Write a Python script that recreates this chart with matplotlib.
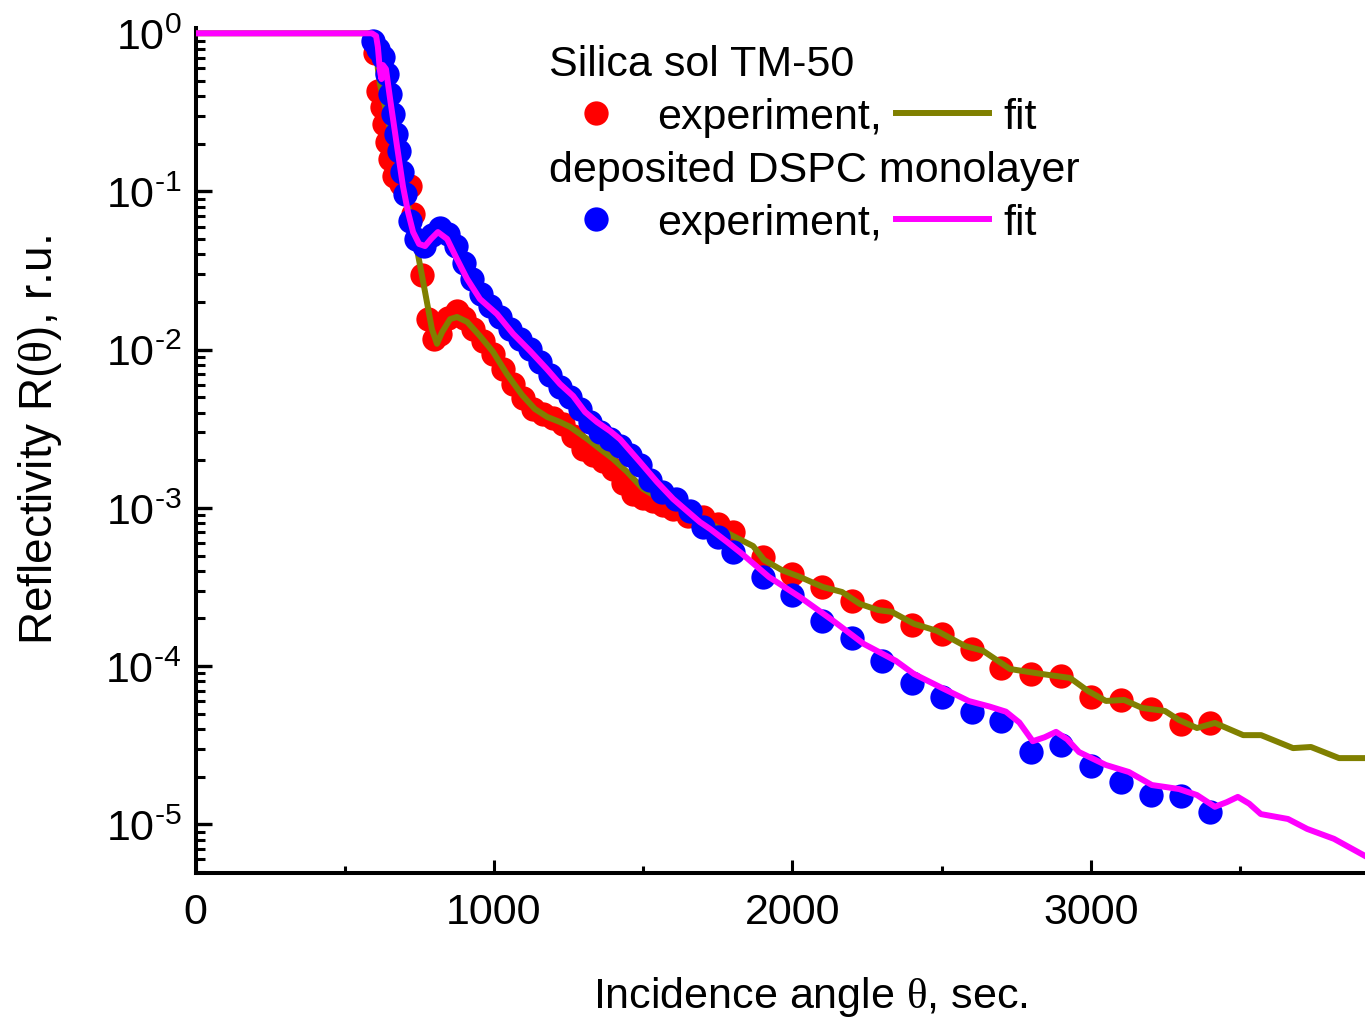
import math
import matplotlib
matplotlib.use("Agg")
import matplotlib.pyplot as plt
from matplotlib.lines import Line2D
from matplotlib.ticker import LogLocator, FixedLocator, NullFormatter, FuncFormatter

plt.rcParams['font.family'] = ['Liberation Sans', 'DejaVu Sans']
plt.rcParams['mathtext.fontset'] = 'custom'
plt.rcParams['mathtext.rm'] = 'Liberation Serif'
plt.rcParams['mathtext.it'] = 'Liberation Serif'

# Silica sol TM-50: measured reflectivity
silica_exp_x = [600, 611, 625, 632, 642, 652, 665, 690, 718, 729, 759, 779, 800, 820,
                845, 876, 900, 930, 963, 997, 1030, 1064, 1097, 1131, 1164, 1198, 1231,
                1265, 1298, 1332, 1365, 1399, 1432, 1466, 1499, 1533, 1566, 1600, 1650,
                1700, 1750, 1800, 1900, 2000, 2100, 2200, 2300, 2400, 2500, 2600, 2700,
                2800, 2900, 3000, 3100, 3200, 3300, 3400]
silica_exp_r = [0.75, 0.432, 0.342, 0.267, 0.206, 0.160, 0.125, 0.112, 0.108, 0.072,
                0.0297, 0.0156, 0.0117, 0.0125, 0.0158, 0.0176, 0.0158, 0.0136, 0.01135,
                0.00939, 0.00755, 0.00607, 0.00495, 0.00422, 0.00392, 0.00370, 0.00339,
                0.00284, 0.00235, 0.00216, 0.00198, 0.00176, 0.00144, 0.00122, 0.00115,
                0.00110, 0.00104, 9.83e-4, 8.89e-4, 8.75e-4, 7.90e-4, 7.03e-4, 4.86e-4,
                3.80e-4, 3.14e-4, 2.58e-4, 2.23e-4, 1.82e-4, 1.59e-4, 1.28e-4, 9.75e-5,
                8.87e-5, 8.62e-5, 6.40e-5, 6.11e-5, 5.39e-5, 4.32e-5, 4.38e-5]

# Silica sol TM-50: model fit
silica_fit_x = [0, 591, 605, 611, 618, 652, 685, 719, 745, 769, 792, 809, 826, 853, 876,
                910, 953, 997, 1043, 1094, 1137, 1178, 1221, 1255, 1312, 1355, 1399, 1446,
                1499, 1546, 1590, 1657, 1713, 1801, 1868, 1905, 1965, 2025, 2102, 2166,
                2226, 2287, 2333, 2407, 2484, 2578, 2638, 2729, 2836, 2930, 2990, 3050,
                3111, 3171, 3248, 3295, 3355, 3415, 3510, 3570, 3677, 3737, 3831, 3918]
silica_fit_r = [1.0, 1.0, 0.856, 0.595, 0.478, 0.248, 0.129, 0.0719, 0.0403, 0.0232,
                0.0135, 0.0109, 0.0129, 0.0156, 0.0161, 0.0150, 0.0122, 0.00968, 0.00702,
                0.00517, 0.00422, 0.00376, 0.00349, 0.00325, 0.00273, 0.00236, 0.00204,
                0.00169, 0.00132, 0.00117, 0.00109, 8.89e-4, 8.15e-4, 6.64e-4, 5.74e-4,
                4.68e-4, 4.04e-4, 3.66e-4, 3.16e-4, 2.94e-4, 2.47e-4, 2.26e-4, 2.20e-4,
                1.85e-4, 1.67e-4, 1.34e-4, 1.25e-4, 9.58e-5, 8.91e-5, 8.41e-5, 6.96e-5,
                6.02e-5, 6.11e-5, 5.44e-5, 5.20e-5, 4.56e-5, 4.06e-5, 4.37e-5, 3.66e-5,
                3.66e-5, 3.03e-5, 3.08e-5, 2.62e-5, 2.62e-5]

# Deposited DSPC monolayer: measured reflectivity
dspc_exp_x = [595, 611, 628, 642, 652, 662, 672, 682, 692, 702, 719, 739, 765, 792, 819,
              846, 873, 899, 926, 956, 987, 1020, 1054, 1087, 1121, 1154, 1188, 1221,
              1255, 1288, 1322, 1355, 1389, 1422, 1456, 1489, 1523, 1563, 1610, 1657,
              1700, 1750, 1800, 1900, 2000, 2100, 2200, 2300, 2400, 2500, 2600, 2700,
              2800, 2900, 3000, 3100, 3200, 3300, 3400]
dspc_exp_r = [0.893, 0.796, 0.708, 0.553, 0.413, 0.308, 0.231, 0.180, 0.133, 0.0962,
              0.0649, 0.0499, 0.0451, 0.0530, 0.0587, 0.0539, 0.0451, 0.0352, 0.0279,
              0.0224, 0.0188, 0.0160, 0.0135, 0.0116, 0.0101, 0.00834, 0.00690, 0.00579,
              0.00501, 0.00421, 0.00348, 0.00300, 0.00272, 0.00246, 0.00215, 0.00186,
              0.00150, 0.00126, 0.00113, 9.53e-4, 7.57e-4, 6.54e-4, 5.26e-4, 3.66e-4,
              2.81e-4, 1.93e-4, 1.50e-4, 1.08e-4, 7.87e-5, 6.33e-5, 5.09e-5, 4.50e-5,
              2.88e-5, 3.15e-5, 2.33e-5, 1.85e-5, 1.54e-5, 1.52e-5, 1.20e-5]

# Deposited DSPC monolayer: model fit
dspc_fit_x = [0, 591, 605, 611, 618, 623, 628, 638, 652, 675, 695, 712, 729, 749, 769,
              789, 812, 843, 876, 910, 953, 1010, 1064, 1121, 1177, 1221, 1265, 1305,
              1345, 1389, 1422, 1489, 1546, 1600, 1647, 1690, 1724, 1781, 1828, 1921,
              2025, 2132, 2239, 2346, 2407, 2501, 2591, 2660, 2715, 2760, 2805, 2845,
              2883, 2920, 2960, 3050, 3127, 3204, 3250, 3295, 3355, 3415, 3455, 3492,
              3530, 3569, 3660, 3724, 3814, 3918]
dspc_fit_r = [1.0, 1.0, 0.962, 0.819, 0.578, 0.514, 0.630, 0.595, 0.384, 0.194, 0.108,
              0.0741, 0.0554, 0.0466, 0.0452, 0.0501, 0.0554, 0.0501, 0.0374, 0.0280,
              0.0209, 0.0168, 0.0126, 0.00981, 0.00755, 0.00607, 0.00510, 0.00404,
              0.00349, 0.00306, 0.00272, 0.00195, 0.00146, 0.00114, 9.55e-4, 8.13e-4,
              7.36e-4, 6.09e-4, 5.18e-4, 3.66e-4, 2.73e-4, 1.96e-4, 1.38e-4, 1.08e-4,
              8.91e-5, 7.27e-5, 6.01e-5, 5.55e-5, 5.15e-5, 4.4e-5, 3.35e-5, 3.55e-5,
              3.84e-5, 3.45e-5, 2.86e-5, 2.37e-5, 2.14e-5, 1.77e-5, 1.72e-5, 1.67e-5,
              1.53e-5, 1.29e-5, 1.38e-5, 1.49e-5, 1.35e-5, 1.16e-5, 1.08e-5, 9.35e-6,
              8.09e-6, 6.31e-6]

RED, BLUE, OLIVE, MAGENTA = '#FF0000', '#0000FF', '#808000', '#FF00FF'
FS = 31
MS = 17.5
LW = 4.3

W, H = 1365, 1020
fig = plt.figure(figsize=(W / 100, H / 100), dpi=100)
ax = fig.add_axes([195.5 / W, (H - 874) / H, (W - 195.5) / W, (874 - 29) / H])

ax.plot(silica_exp_x, silica_exp_r, 'o', color=RED, ms=MS, mew=0, zorder=2)
ax.plot(silica_fit_x, silica_fit_r, '-', color=OLIVE, lw=LW, zorder=3,
        solid_joinstyle='round')
ax.plot(dspc_exp_x, dspc_exp_r, 'o', color=BLUE, ms=MS, mew=0, zorder=4)
ax.plot(dspc_fit_x, dspc_fit_r, '-', color=MAGENTA, lw=LW, zorder=5,
        solid_joinstyle='round')

ax.set_yscale('log')
ax.set_xlim(0, 3918)
ax.set_ylim(10 ** -5.308, 10 ** 0.0335)

for side in ('top', 'right'):
    ax.spines[side].set_visible(False)
for side in ('left', 'bottom'):
    ax.spines[side].set_linewidth(2.9)


def decade_label(v, pos):
    exp = round(math.log10(v))
    sign = '\u2010' if exp < 0 else ''
    return r'$\mathdefault{10^{%s%d}}$' % (sign, abs(exp))


ax.xaxis.set_major_locator(FixedLocator([0, 1000, 2000, 3000]))
ax.xaxis.set_minor_locator(FixedLocator([500, 1500, 2500, 3500]))
ax.yaxis.set_major_locator(LogLocator(base=10, numticks=20))
ax.yaxis.set_minor_locator(LogLocator(base=10, subs=range(2, 10), numticks=20))
ax.yaxis.set_minor_formatter(NullFormatter())
ax.yaxis.set_major_formatter(FuncFormatter(decade_label))

ax.tick_params(axis='both', which='both', direction='in', labelsize=FS,
               top=False, right=False)
ax.tick_params(axis='y', which='major', length=11.5, width=2.4, pad=10)
ax.tick_params(axis='y', which='minor', length=6.5, width=2.2)
ax.tick_params(axis='x', which='major', length=9.5, width=2.2, pad=14)
ax.tick_params(axis='x', which='minor', length=5, width=2.2)

fig.text(810 / W, 1 - 997 / H, r'Incidence angle $\mathrm{\theta}$, sec.',
         fontsize=FS, ha='center', va='center')
fig.text(40 / W, 1 - 440 / H, r'Reflectivity R($\mathrm{\theta}$), r.u.',
         fontsize=33, ha='center', va='center', rotation=90)


# Two stacked legends, each titled with the sample name
def sample_legend(title, mcolor, lcolor, top_px):
    handles = [Line2D([], [], ls='none', marker='o', color=mcolor, ms=MS, mew=0),
               Line2D([], [], color=lcolor, lw=LW)]
    leg = fig.legend(handles, ['experiment,', 'fit'], ncol=2, title=title,
                     loc='upper left', bbox_to_anchor=(549 / W, 1 - top_px / H),
                     frameon=False, fontsize=FS, title_fontsize=FS,
                     alignment='left', borderpad=0, borderaxespad=0,
                     handlelength=2.16, handletextpad=0.34, columnspacing=0.33,
                     labelspacing=0.3)
    return leg


leg1 = sample_legend('Silica sol TM-50', RED, OLIVE, 45)
leg2 = sample_legend('deposited DSPC monolayer', BLUE, MAGENTA, 151)

fig.savefig('out.png', dpi=100)
